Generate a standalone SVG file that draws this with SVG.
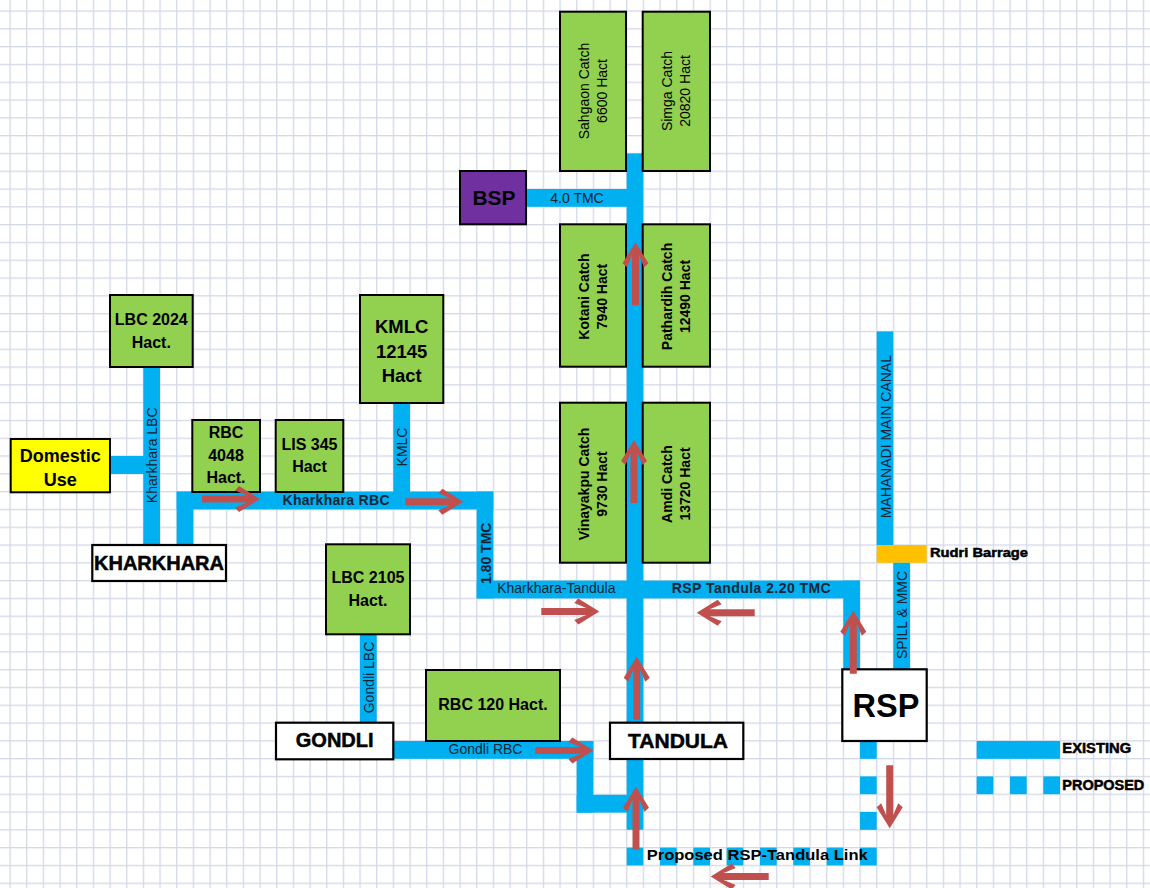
<svg xmlns="http://www.w3.org/2000/svg" xmlns:xlink="http://www.w3.org/1999/xlink" width="1150" height="888" viewBox="0 0 1150 888">
<style>
.t{font-family:"Liberation Sans",Arial,sans-serif;fill:#000}
.c{font-family:"Liberation Sans",Arial,sans-serif;fill:#142436;font-size:14px}
.b{font-weight:bold}
.canal{fill:#00b0f0}
.box{fill:#92d050;stroke:#000;stroke-width:2}
.wbox{fill:#fff;stroke:#000;stroke-width:2.2}
.arrow{fill:#c0504d}
.heavy{stroke:#000;stroke-width:0.5}
</style>
<defs>
<pattern id="gridpat" patternUnits="userSpaceOnUse" x="9.4" y="10.4" width="16.667" height="17.8">
<rect width="16.667" height="17.8" fill="#ffffff"/>
<rect x="0" y="0" width="1.3" height="17.8" fill="#d3d9e7"/>
<rect x="0" y="0" width="16.667" height="1.3" fill="#d3d9e7"/>
</pattern>
<path id="a58" d="M0,0 L-21,-13 L-25,-8.5 L-13,-3.5 L-58,-3.5 L-58,3.5 L-13,3.5 L-25,8.5 L-21,13 Z"/>
<path id="a63" d="M0,0 L-21,-13 L-25,-8.5 L-13,-3.5 L-63,-3.5 L-63,3.5 L-13,3.5 L-25,8.5 L-21,13 Z"/>
</defs>

<rect id="background" x="0" y="0" width="1150" height="888" fill="url(#gridpat)"/>

<g id="connectors">
  <!-- existing canals -->
  <rect class="canal" x="110" y="456" width="34" height="18"/>
  <rect class="canal" x="143.3" y="367" width="16.7" height="178"/>
  <rect class="canal" x="176.7" y="491.6" width="16.6" height="53.4"/>
  <rect class="canal" x="176.7" y="491.6" width="316.6" height="17.8"/>
  <rect class="canal" x="393.3" y="403" width="16.7" height="89"/>
  <rect class="canal" x="476.7" y="491.6" width="16.6" height="106.8"/>
  <rect class="canal" x="476.7" y="580.6" width="383.3" height="17.8"/>
  <rect class="canal" x="843.3" y="580.6" width="16.7" height="89"/>
  <rect class="canal" x="626.7" y="153.4" width="16.6" height="676.4"/>
  <rect class="canal" x="526" y="189" width="101" height="17.8"/>
  <rect class="canal" x="876.7" y="331.4" width="16.6" height="213.6"/>
  <rect x="876.7" y="545" width="50" height="17.8" fill="#ffc000"/>
  <rect class="canal" x="893.3" y="562.8" width="16.7" height="106.5"/>
  <rect class="canal" x="360" y="634" width="16.7" height="89"/>
  <rect class="canal" x="393.3" y="741" width="200" height="17.8"/>
  <rect class="canal" x="576.7" y="741" width="16.6" height="71.6"/>
  <rect class="canal" x="576.7" y="794.8" width="66.6" height="17.8"/>
  <!-- proposed link (dashed) -->
  <g id="proposed-link">
    <rect class="canal" x="860" y="741" width="16.7" height="17.8"/>
    <rect class="canal" x="860" y="776.4" width="16.7" height="17.8"/>
    <rect class="canal" x="860" y="812" width="16.7" height="17.8"/>
    <rect class="canal" x="860" y="847.6" width="16.7" height="17.8"/>
    <rect class="canal" x="626.7" y="847.6" width="16.6" height="17.8"/>
    <rect class="canal" x="660" y="847.6" width="16.7" height="17.8"/>
    <rect class="canal" x="693.3" y="847.6" width="16.7" height="17.8"/>
    <rect class="canal" x="726.7" y="847.6" width="16.6" height="17.8"/>
    <rect class="canal" x="760" y="847.6" width="16.7" height="17.8"/>
    <rect class="canal" x="793.3" y="847.6" width="16.7" height="17.8"/>
    <rect class="canal" x="826.7" y="847.6" width="16.6" height="17.8"/>
  </g>
  <!-- canal labels -->
  <text class="c" transform="translate(151.7,455.3) rotate(-90)" y="5" text-anchor="middle">Kharkhara LBC</text>
  <text class="c" transform="translate(401.7,447) rotate(-90)" y="5" text-anchor="middle">KMLC</text>
  <text class="c b" transform="translate(485,553.3) rotate(-90)" y="5.5" text-anchor="middle">1.80 TMC</text>
  <text class="c" transform="translate(368.3,677.5) rotate(-90)" y="5.5" text-anchor="middle">Gondli LBC</text>
  <text class="c" transform="translate(885,436.7) rotate(-90)" y="5.5" text-anchor="middle">MAHANADI MAIN CANAL</text>
  <text class="c" transform="translate(901.7,615) rotate(-90)" y="5.5" text-anchor="middle">SPILL &amp; MMC</text>
  <text class="c b" x="336" y="505" text-anchor="middle" textLength="107" lengthAdjust="spacing">Kharkhara RBC</text>
  <text class="c" x="577" y="202.5" text-anchor="middle">4.0 TMC</text>
  <text class="c" x="556.3" y="593.3" text-anchor="middle">Kharkhara-Tandula</text>
  <text class="c b" x="751.2" y="593.3" text-anchor="middle" textLength="159" lengthAdjust="spacing">RSP Tandula 2.20 TMC</text>
  <text class="c" x="485.5" y="754" text-anchor="middle">Gondli RBC</text>
  <text class="t b" x="646.7" y="860" font-size="15" textLength="221" lengthAdjust="spacingAndGlyphs">Proposed RSP-Tandula Link</text>
</g>

<g id="node-lbc2024">
  <rect class="box" x="110" y="295" width="82.7" height="72"/>
  <text class="t b" x="151.3" font-size="16" text-anchor="middle"><tspan x="151.3" y="325">LBC 2024</tspan><tspan x="151.3" y="347.7">Hact.</tspan></text>
</g>
<g id="node-domestic">
  <rect x="10.7" y="439" width="99.3" height="53.3" fill="#ffff00" stroke="#000" stroke-width="2"/>
  <text class="t b" font-size="18" text-anchor="middle"><tspan x="60.3" y="461.7">Domestic</tspan><tspan x="60.3" y="486">Use</tspan></text>
</g>
<g id="node-rbc4048">
  <rect class="box" x="192.3" y="420" width="67.7" height="72"/>
  <text class="t b" font-size="16" text-anchor="middle"><tspan x="226" y="438.3">RBC</tspan><tspan x="226" y="461">4048</tspan><tspan x="226" y="483.3">Hact.</tspan></text>
</g>
<g id="node-lis345">
  <rect class="box" x="275.7" y="420" width="67.6" height="72"/>
  <text class="t b" font-size="16" text-anchor="middle"><tspan x="309.5" y="450">LIS 345</tspan><tspan x="309.5" y="472.3">Hact</tspan></text>
</g>
<g id="node-kmlc">
  <rect class="box" x="360" y="295" width="83.3" height="108"/>
  <text class="t b" font-size="18.5" text-anchor="middle"><tspan x="401.7" y="333.3">KMLC</tspan><tspan x="401.7" y="358.3">12145</tspan><tspan x="401.7" y="382.3">Hact</tspan></text>
</g>
<g id="node-kharkhara">
  <rect class="wbox" x="92.3" y="545" width="133.7" height="36"/>
  <text class="t b heavy" x="159" y="570" font-size="20" text-anchor="middle">KHARKHARA</text>
</g>
<g id="node-lbc2105">
  <rect class="box" x="326" y="544.3" width="84" height="90"/>
  <text class="t b" font-size="16" text-anchor="middle"><tspan x="368" y="583.3">LBC 2105</tspan><tspan x="368" y="605.7">Hact.</tspan></text>
</g>
<g id="node-rbc120">
  <rect class="box" x="426" y="670" width="134" height="71"/>
  <text class="t b" x="493" y="710" font-size="16" text-anchor="middle">RBC 120 Hact.</text>
</g>
<g id="node-gondli">
  <rect class="wbox" x="276" y="722.7" width="117.3" height="36.6"/>
  <text class="t b heavy" x="334.7" y="747.3" font-size="20" text-anchor="middle">GONDLI</text>
</g>
<g id="node-tandula">
  <rect class="wbox" x="610" y="722.7" width="133.3" height="36.3"/>
  <text class="t b heavy" x="678" y="748.3" font-size="21" text-anchor="middle">TANDULA</text>
</g>
<g id="node-rsp">
  <rect class="wbox" x="842.3" y="669.3" width="84.4" height="71.7"/>
  <text class="t b" x="886" y="717.3" font-size="32.5" text-anchor="middle">RSP</text>
</g>
<g id="node-bsp">
  <rect x="460" y="171" width="66" height="53.3" fill="#7030a0" stroke="#000" stroke-width="2"/>
  <text class="t b" x="494" y="205" font-size="21" text-anchor="middle">BSP</text>
</g>
<g id="node-sahgaon">
  <rect class="box" x="560" y="11.7" width="66" height="159.3"/>
  <text class="t" font-size="14" text-anchor="middle" transform="translate(593,91) rotate(-90)"><tspan x="0" y="-4.5">Sahgaon Catch</tspan><tspan x="0" y="14">6600 Hact</tspan></text>
</g>
<g id="node-simga">
  <rect class="box" x="642.7" y="11.7" width="67.3" height="159.3"/>
  <text class="t" font-size="14" text-anchor="middle" transform="translate(676.3,91) rotate(-90)"><tspan x="0" y="-4.5">Simga Catch</tspan><tspan x="0" y="14">20820 Hact</tspan></text>
</g>
<g id="node-kotani">
  <rect class="box" x="560" y="224.3" width="66" height="142.4"/>
  <text class="t b" font-size="14" text-anchor="middle" transform="translate(593,296.5) rotate(-90)"><tspan x="0" y="-4.5">Kotani Catch</tspan><tspan x="0" y="14">7940 Hact</tspan></text>
</g>
<g id="node-pathardih">
  <rect class="box" x="642.7" y="224.3" width="67.3" height="142.4"/>
  <text class="t b" font-size="14" text-anchor="middle" transform="translate(676.3,296.5) rotate(-90)"><tspan x="0" y="-4.5">Pathardih Catch</tspan><tspan x="0" y="14">12490 Hact</tspan></text>
</g>
<g id="node-vinayakpu">
  <rect class="box" x="560" y="402.7" width="66" height="160"/>
  <text class="t b" font-size="14" text-anchor="middle" transform="translate(593,484) rotate(-90)"><tspan x="0" y="-4.5">Vinayakpu Catch</tspan><tspan x="0" y="14">9730 Hact</tspan></text>
</g>
<g id="node-amdi">
  <rect class="box" x="642.7" y="402.7" width="67.3" height="160"/>
  <text class="t b" font-size="14" text-anchor="middle" transform="translate(676.3,484) rotate(-90)"><tspan x="0" y="-4.5">Amdi Catch</tspan><tspan x="0" y="14">13720 Hact</tspan></text>
</g>
<g id="node-rudri">
  <text class="t b heavy" x="930" y="556.7" font-size="13" textLength="98" lengthAdjust="spacingAndGlyphs">Rudri Barrage</text>
</g>
<g id="legend">
  <rect class="canal" x="976.7" y="741" width="83.3" height="17.8"/>
  <rect class="canal" x="976.7" y="776.4" width="16.6" height="17.8"/>
  <rect class="canal" x="1010" y="776.4" width="16.7" height="17.8"/>
  <rect class="canal" x="1043.3" y="776.4" width="16.7" height="17.8"/>
  <text class="t b heavy" x="1062.3" y="753.3" font-size="14" textLength="69" lengthAdjust="spacingAndGlyphs">EXISTING</text>
  <text class="t b heavy" x="1062.3" y="790" font-size="14" textLength="82" lengthAdjust="spacingAndGlyphs">PROPOSED</text>
</g>

<g id="flow-arrows" class="arrow">
  <use xlink:href="#a58" transform="translate(260,499)"/>
  <use xlink:href="#a58" transform="translate(463.3,501.7)"/>
  <use xlink:href="#a63" transform="translate(634,440) rotate(-90)"/>
  <use xlink:href="#a63" transform="translate(635.5,242.3) rotate(-90)"/>
  <use xlink:href="#a58" transform="translate(599.3,611.5)"/>
  <use xlink:href="#a58" transform="translate(696.7,612.7) rotate(180)"/>
  <use xlink:href="#a63" transform="translate(853.3,610.7) rotate(-90)"/>
  <use xlink:href="#a63" transform="translate(636.7,656.7) rotate(-90)"/>
  <use xlink:href="#a58" transform="translate(593.3,750.5)"/>
  <use xlink:href="#a63" transform="translate(636,786.7) rotate(-90)"/>
  <use xlink:href="#a63" transform="translate(889.7,828.3) rotate(90)"/>
  <use xlink:href="#a58" transform="translate(710.7,876.5) rotate(180)"/>
</g>
</svg>
